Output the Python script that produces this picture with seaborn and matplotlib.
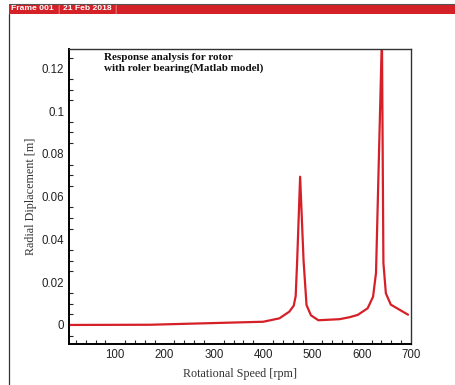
import matplotlib
matplotlib.use("Agg")
import matplotlib.pyplot as plt
from matplotlib.ticker import MultipleLocator
import matplotlib.patches as mpatches
import seaborn as sns
import pandas as pd

speed_rpm = [6, 170, 400, 433, 453, 462, 466, 469, 475, 482, 488, 497, 512,
             555, 575, 592, 612, 623, 629, 641, 644, 649, 659, 694]
radial_disp = [0.0, 0.0001, 0.0015, 0.0031, 0.0062, 0.009, 0.0135, 0.030, 0.0693,
               0.030, 0.0093, 0.0045, 0.0022, 0.0027, 0.0036, 0.0047, 0.0078,
               0.0132, 0.0243, 0.135, 0.029, 0.0148, 0.0095, 0.0048]
x_ticks = [100, 200, 300, 400, 500, 600, 700]
y_ticks = [0, 0.02, 0.04, 0.06, 0.08, 0.1, 0.12]
y_tick_labels = ["0", "0.02", "0.04", "0.06", "0.08", "0.1", "0.12"]

df = pd.DataFrame({"rpm": speed_rpm, "disp": radial_disp})

sns.set_style("white")
plt.rcParams["font.family"] = ["Liberation Sans", "DejaVu Sans"]

W, H = 456, 385
fig = plt.figure(figsize=(W / 100, H / 100), dpi=100)
fig.patch.set_facecolor("white")

# header bar
fig.add_artist(mpatches.Rectangle((9 / W, 1 - 13.5 / H), (456 - 9) / W, 9.5 / H,
                                  transform=fig.transFigure, facecolor="#d42027",
                                  edgecolor="none"))
fig.add_artist(plt.Line2D([9 / W, 1], [1 - 3.5 / H, 1 - 3.5 / H], transform=fig.transFigure,
                          color="#555555", lw=0.8))
fig.add_artist(plt.Line2D([9.5 / W, 9.5 / W], [0, 1 - 13.5 / H], transform=fig.transFigure,
                          color="#333333", lw=0.9))
fig.text(11 / W, 1 - 9 / H, "Frame 001", color="white", fontsize=6.1, fontweight="bold",
         va="center", ha="left")
fig.text(57 / W, 1 - 9 / H, "|", color="#f0a0a0", fontsize=6.5, va="center", ha="left")
fig.text(63 / W, 1 - 9 / H, "21 Feb 2018", color="white", fontsize=6.1, fontweight="bold",
         va="center", ha="left")
fig.text(114 / W, 1 - 9 / H, "|", color="#f0a0a0", fontsize=6.5, va="center", ha="left")

ax = fig.add_axes([69 / W, 1 - 344 / H, (411 - 69) / W, (344 - 49) / H])
sns.lineplot(data=df, x="rpm", y="disp", sort=False, color="#d62028", lw=1.6, ax=ax,
             clip_on=True)

ax.set_xlim(6, 700)
ax.set_ylim(-0.0089, 0.129)
ax.set_xticks(x_ticks)
ax.set_yticks(y_ticks)
ax.set_yticklabels(y_tick_labels)
ax.xaxis.set_minor_locator(MultipleLocator(20))
ax.yaxis.set_minor_locator(MultipleLocator(0.005))
ax.tick_params(axis="both", which="major", direction="in", length=6, width=1.0,
               labelsize=8.3, pad=3.5, colors="black", labelcolor="#222222",
               top=False, right=False)
ax.tick_params(axis="both", which="minor", direction="in", length=3, width=0.8,
               top=False, right=False, left=True, bottom=True)
for side in ["left", "bottom"]:
    ax.spines[side].set_linewidth(1.4)
    ax.spines[side].set_color("black")
for side in ["top", "right"]:
    ax.spines[side].set_linewidth(1.0)
    ax.spines[side].set_color("#333333")

serif = ["Liberation Serif", "DejaVu Serif"]
ax.set_xlabel("Rotational Speed [rpm]", family=serif, fontsize=8.7, color="#333333",
              labelpad=5)
ax.set_ylabel("Radial Diplacement [m]", family=serif, fontsize=8.7, color="#333333",
              labelpad=3)
ax.text(104 / W, 1 - 53 / H, "Response analysis for rotor\nwith roler bearing(Matlab model)",
        transform=fig.transFigure, family=serif, fontsize=8, fontweight="bold",
        va="top", ha="left", linespacing=1.2, color="#111111")

fig.savefig("out.png", dpi=100)
